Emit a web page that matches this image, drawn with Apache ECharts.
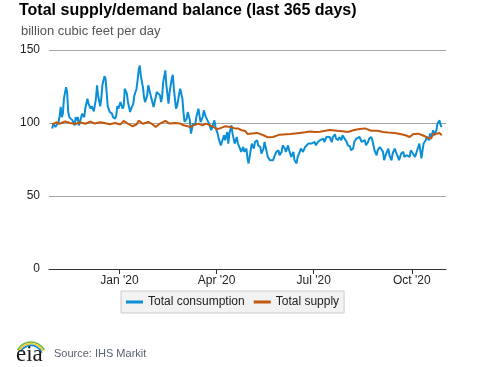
<!DOCTYPE html>
<html>
<head>
<meta charset="utf-8">
<script src="https://cdn.jsdelivr.net/npm/echarts@6/dist/echarts.min.js"></script>
<style>
html,body{margin:0;padding:0;background:#fff;}
#chart{width:477px;height:367px;}
</style>
</head>
<body>
<div id="chart"></div>
<script>
// ---- data ----
// day index 0 = 2019-10-30 (first day of the 365-day window)
const seriesStart = [2019, 9, 30];
const axisStart = [2019, 9, 27];
const axisDayCount = 373;
const tickMonths = ['Jan', 'Apr', 'Jul', 'Oct'];
const monthNames = ['Jan','Feb','Mar','Apr','May','Jun','Jul','Aug','Sep','Oct','Nov','Dec'];
const yTicks = [0, 50, 100, 150];

const consumptionDay = [0,1,3,4,6,7,8,9,10,11,13,14,15,16,19,21,22,23,24,25,26,28,30,31,33,34,36,37,39,41,42,43,45,46,47,49,50,51,52,54,56,57,59,60,61,62,64,66,67,68,70,71,73,74,76,77,79,80,81,82,83,85,86,87,89,90,
91,93,95,96,98,99,101,102,103,104,106,107,109,110,112,113,114,116,117,119,120,122,123,124,126,127,129,130,132,134,135,137,138,139,141,142,144,145,147,149,150,152,153,155,156,158,159,161,162,164,165,166,168,169,171,173,174,176,177,179,180,182,183,184,
186,187,189,190,192,193,195,196,198,199,201,202,204,205,207,208,210,212,213,215,216,218,219,221,222,224,226,227,229,230,232,233,235,237,238,240,241,243,244,246,247,249,251,252,254,255,257,258,260,262,263,265,266,268,269,271,272,274,276,277,279,
280,282,283,285,286,288,290,291,293,294,296,297,299,300,302,304,305,307,308,310,311,313,315,316,318,319,321,322,324,325,327,329,330,332,333,335,336,338,340,341,343,344,346,347,348,350,351,353,354,355,357,358,360,361,363,364,365];
const consumption = [96.2,99.6,97.3,97.5,100.7,105,111,104,106.4,116.7,124.6,121,107.5,104,101.8,98.4,104,101.8,104,98.4,100.7,106.4,104,109.8,116.7,113.2,109.8,111.5,108,116.7,125.8,118.9,111.5,116.7,125.8,132.1,130.3,121.2,111.5,107.5,106.4,104,103,105,111.5,109.8,114.3,109.8,111.5,123.5,120,114.3,107.5,109.8,113.2,118.9,123.5,129.2,136,139.4,132.6,124.6,117.8,114.3,118.9,125.8,
126.9,116.7,110.9,112,121.2,122.3,118.9,114.3,117.8,128,136,125.8,113.2,121.2,130.3,133,123.5,109.8,111.5,120,123.5,116.7,107.5,100.7,103,107.5,101.8,92.7,99.6,98.4,104,109.8,105.2,100.7,104,108.7,104,105.2,99.6,95,97.3,101.8,97.3,92.7,89.3,84.7,87,91.6,88.2,93.8,85.9,92.7,98.4,92.7,85.9,90.4,85.9,82.5,80.2,83.6,80.2,82.5,75.7,72.3,
81.3,85.9,82.5,87,88.2,84.7,83.6,79.1,82.5,87,80.2,76.8,74.5,75.7,74.5,76.8,80.2,81.3,77.9,80.2,84.7,82.5,80.2,84.7,81.3,76.8,80.2,74.5,72.3,76.8,80.2,82.5,80.2,83.6,82.5,85.9,84.7,85.9,84.7,87,84.7,87,88.2,87,89.3,87,90.4,89.3,90.4,87,90.4,92.3,89.3,88.2,90.4,88.2,91.6,89.3,87,84.7,84,
81.3,82.5,87,89.3,88.2,90.4,87,85.9,88.2,84.7,87,89.3,90.4,88.2,81.3,77.9,81.3,83.6,84.7,80.2,74.5,79.1,82.5,77.9,74.5,79.1,82.5,80.2,76.8,74.5,79.1,80.2,76.8,77.9,76.8,76.8,81.3,79.1,76.8,79.1,83.6,85.9,75.7,81.3,85.9,88.2,90.4,88.2,92.7,90.4,95,91.6,95,99.6,101.8,98.4,97.3];

const supplyDay = [0,4,7,12,17,22,26,31,36,40,45,50,54,59,64,67,71,75,79,81,85,90,93,97,101,106,110,115,120,123,126,129,132,137,141,144,148,151,154,157,162,167,171,174,177,181,183,185,192,198,202,207,213,223,232,237,242,246,251,256,260,267,272,277,283,288,293,299,305,310,315,321,327,331,335,338,343,347,352,355,357,360,363,365];
const supply = [99,100.5,99.5,101,100,99.3,100.5,99.5,101,99.6,100.5,99.8,99.2,100,99,101.5,99.5,97.8,99,101.6,99.5,100.7,99.6,97.3,99.6,101.4,99.6,100,99.6,98.4,98,97.3,98.4,99.6,98.4,99.6,98.4,97.3,95.9,96.3,97.7,97.3,96.3,96.3,95.2,94.5,92.5,92.7,93.2,91.6,90.2,90.4,92,92.5,93.2,93.6,94.2,93.8,94,94.7,95.2,94.7,94.4,93.8,95.2,95.9,96.3,94.7,94.7,93.8,93.5,93.2,92.3,91.6,90.4,92.3,92.7,91.6,90,89.3,92.3,92.7,93.1,91.6];

// ---- build category axis + series tables ----
const DAY = 86400000;
function ymd(t) {
  const d = new Date(t);
  const m = d.getUTCMonth() + 1, dd = d.getUTCDate();
  return d.getUTCFullYear() + '-' + (m < 10 ? '0' : '') + m + '-' + (dd < 10 ? '0' : '') + dd;
}
const axisT0 = Date.UTC(axisStart[0], axisStart[1], axisStart[2]);
const seriesT0 = Date.UTC(seriesStart[0], seriesStart[1], seriesStart[2]);
const categories = [];
for (let i = 0; i < axisDayCount; i++) categories.push(ymd(axisT0 + i * DAY));
const offset = Math.round((seriesT0 - axisT0) / DAY);
function toSeries(days, vals) {
  const arr = new Array(categories.length).fill(null);
  days.forEach((d, i) => { arr[d + offset] = vals[i]; });
  return arr;
}
function isQuarterTick(index, value) {
  const parts = String(value).split('-');
  const m = parseInt(parts[1], 10) - 1, d = parseInt(parts[2], 10);
  return d === 1 && tickMonths.indexOf(monthNames[m]) >= 0;
}

const chart = echarts.init(document.getElementById('chart'), null, { renderer: 'canvas' });
chart.setOption({
  animation: false,
  backgroundColor: '#ffffff',
  textStyle: { fontFamily: '"Liberation Sans", Arial, sans-serif' },
  title: [
    { text: 'Total supply/demand balance (last 365 days)', left: 19, top: 3, padding: 0,
      textStyle: { fontSize: 16, fontWeight: 'bold', color: '#000', fontFamily: '"Liberation Sans", Arial, sans-serif' } },
    { text: 'billion cubic feet per day', left: 21, top: 25, padding: 0,
      textStyle: { fontSize: 13, fontWeight: 'normal', color: '#555555', fontFamily: '"Liberation Sans", Arial, sans-serif' } }
  ],
  legend: {
    left: 121, top: 291,
    padding: [5, 5],
    itemGap: 9,
    itemWidth: 17, itemHeight: 3,
    icon: 'rect',
    backgroundColor: '#f2f2f2',
    borderColor: '#cccccc', borderWidth: 1, borderRadius: 0,
    textStyle: { fontSize: 12, color: '#222', fontFamily: '"Liberation Sans", Arial, sans-serif' },
    data: ['Total consumption', 'Total supply']
  },
  grid: { left: 49, right: 31, top: 50, bottom: 98 },
  xAxis: {
    type: 'category',
    data: categories,
    boundaryGap: false,
    axisLine: { lineStyle: { color: '#333', width: 1 } },
    axisTick: { show: true, interval: isQuarterTick, length: 5, lineStyle: { color: '#333' } },
    axisLabel: {
      interval: isQuarterTick,
      margin: 6,
      fontSize: 12, color: '#222',
      fontFamily: '"Liberation Sans", Arial, sans-serif',
      formatter: function (v) {
        const p = v.split('-');
        return monthNames[parseInt(p[1], 10) - 1] + " '" + p[0].slice(2);
      }
    },
    splitLine: { show: false }
  },
  yAxis: {
    type: 'value',
    min: yTicks[0], max: yTicks[yTicks.length - 1], interval: yTicks[1] - yTicks[0],
    axisLine: { show: false },
    axisTick: { show: false },
    axisLabel: { fontSize: 12, color: '#222', margin: 9, fontFamily: '"Liberation Sans", Arial, sans-serif' },
    splitLine: { lineStyle: { color: '#a6a6a6', width: 1 } }
  },
  series: [
    { name: 'Total consumption', type: 'line', data: toSeries(consumptionDay, consumption),
      connectNulls: true, showSymbol: false, symbol: 'none',
      lineStyle: { color: '#0a8fd6', width: 2 }, itemStyle: { color: '#0a8fd6' } },
    { name: 'Total supply', type: 'line', data: toSeries(supplyDay, supply),
      connectNulls: true, showSymbol: false, symbol: 'none',
      lineStyle: { color: '#c0580e', width: 2 }, itemStyle: { color: '#c0580e' } }
  ],
  graphic: [
    { type: 'arc', shape: { cx: 31, cy: 357, r: 15, startAngle: Math.PI * 1.15, endAngle: Math.PI * 1.85 },
      style: { stroke: '#6fb83f', lineWidth: 1.6, fill: null } },
    { type: 'arc', shape: { cx: 31, cy: 357, r: 13.3, startAngle: Math.PI * 1.15, endAngle: Math.PI * 1.85 },
      style: { stroke: '#f2c316', lineWidth: 1.4, fill: null } },
    { type: 'arc', shape: { cx: 31, cy: 357, r: 11.6, startAngle: Math.PI * 1.15, endAngle: Math.PI * 1.88 },
      style: { stroke: '#1a86cf', lineWidth: 1.6, fill: null } },
    { type: 'text', left: 16, top: 343,
      style: { text: 'eia', font: '23px "Liberation Serif", "DejaVu Serif", serif', fill: '#1a1a1a' } },
    { type: 'text', left: 54, top: 348,
      style: { text: 'Source: IHS Markit', font: '11px "Liberation Sans", Arial, sans-serif', fill: '#5a6170' } }
  ]
});
</script>
</body>
</html>
